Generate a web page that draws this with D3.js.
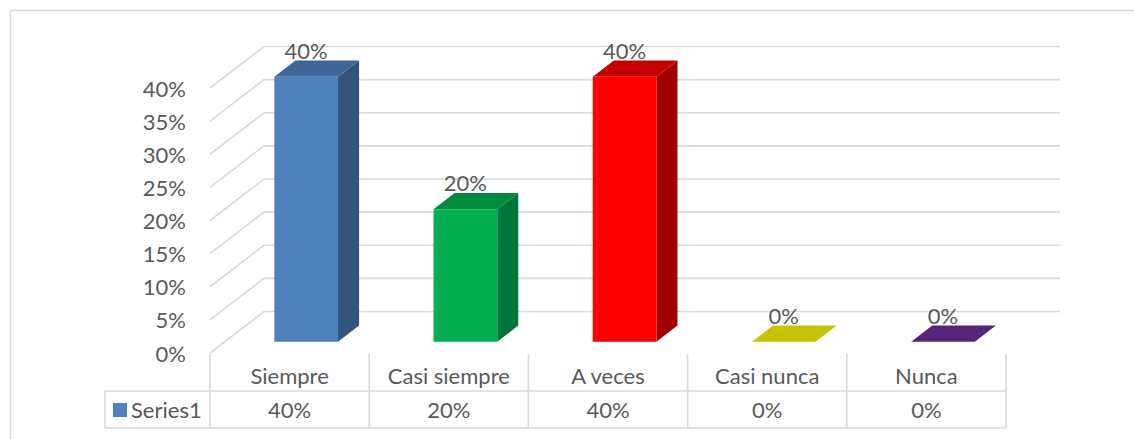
<!DOCTYPE html>
<html><head><meta charset="utf-8">
<script src="https://cdn.jsdelivr.net/npm/d3@7"></script>
<style>
html,body{margin:0;padding:0;background:#fff;}
svg{display:block;}
text{font-family:Lato,"Open Sans",sans-serif;fill:#595959;}
</style></head>
<body>
<script>
const categories = ["Siempre","Casi siempre","A veces","Casi nunca","Nunca"];
const values = [0.40,0.20,0.40,0.00,0.00];
const tickValues = [0,0.05,0.10,0.15,0.20,0.25,0.30,0.35,0.40];
const seriesName = "Series1";

const palette = {
  front: ["#4f81bd","#00b050","#ff0000","#c8c800","#7030a0"],
  top:   ["#3d6596","#008a3d","#c40000","#c4c400","#55257a"],
  side:  ["#33547e","#00763a","#a00000","#9a9a00","#451e64"]
};

const W = 1134, H = 439;
const svg = d3.select("body").append("svg").attr("width", W).attr("height", H);

// outer chart border
svg.append("rect").attr("x",10.5).attr("y",10.5).attr("width",1200).attr("height",600)
  .attr("fill","none").attr("stroke","#d9d9d9").attr("stroke-width",1.5);

const x = d3.scaleBand().domain(categories).range([210,1006]);
const y = d3.scaleLinear().domain([0,0.40]).range([353,88]);
const depthX = 54, depthY = 41.5;
const P = (xf, v, f) => [xf + f*depthX, y(v) - f*depthY];
const grid = "#d9d9d9";

// back wall gridlines and left wall diagonals
const g = svg.append("g").attr("stroke",grid).attr("stroke-width",1.6).attr("fill","none");
tickValues.forEach(t => {
  const a = P(x.range()[0], t, 0), b = P(x.range()[0], t, 1), c = P(x.range()[1], t, 1);
  g.append("path").attr("d", d3.line()([a,b,c]));
});

// table
const tbl = svg.append("g").attr("stroke",grid).attr("stroke-width",1.6).attr("fill","none");
const yTop = 354, yMid = 391, yBot = 428, xLeg = 105;
x.domain().forEach(c => {
  tbl.append("line").attr("x1",x(c)).attr("x2",x(c)).attr("y1",yTop).attr("y2",yBot);
});
tbl.append("line").attr("x1",x.range()[1]).attr("x2",x.range()[1]).attr("y1",yTop).attr("y2",yBot);
tbl.append("line").attr("x1",xLeg).attr("x2",x.range()[1]).attr("y1",yMid).attr("y2",yMid);
tbl.append("line").attr("x1",xLeg).attr("x2",x.range()[1]).attr("y1",yBot).attr("y2",yBot);
tbl.append("line").attr("x1",xLeg).attr("x2",xLeg).attr("y1",yMid).attr("y2",yBot);

const fs = 22;
const fmt = d3.format(".0%");
// category labels and values
svg.append("g").selectAll("text").data(categories).join("text")
  .attr("x", c => x(c) + x.bandwidth()/2).attr("y", 384)
  .attr("text-anchor","middle").attr("font-size",fs).text(c => c);
svg.append("g").selectAll("text").data(values).join("text")
  .attr("x", (v,i) => x(categories[i]) + x.bandwidth()/2).attr("y", 418)
  .attr("text-anchor","middle").attr("font-size",fs).text(v => fmt(v));
// legend key
svg.append("rect").attr("x",113).attr("y",403).attr("width",14).attr("height",14).attr("fill",palette.front[0]);
svg.append("text").attr("x",131).attr("y",418).attr("font-size",fs).text(seriesName);

// y axis labels
const ax = svg.append("g").attr("transform","translate(186,1)")
  .call(d3.axisLeft(y).tickValues(tickValues).tickFormat(fmt).tickSize(0).tickPadding(0));
ax.select(".domain").remove();
ax.selectAll("text").attr("font-size",fs).style("font-family",'Lato,"Open Sans",sans-serif').attr("fill","#595959");

// bars
const f1 = 0.27, f2 = 0.66;
const bw = x.bandwidth()*0.40;
const bars = svg.append("g");
categories.forEach((c,i) => {
  const v = values[i];
  const xl = x(c) + x.bandwidth()/2 - bw/2 + 2, xr = xl + bw;
  const line = d3.line();
  const gb = bars.append("g");
  if (v > 0) {
    gb.append("path").attr("fill",palette.side[i])
      .attr("d", line([P(xr,0,f1),P(xr,0,f2),P(xr,v,f2),P(xr,v,f1)]) + "Z");
  }
  gb.append("path").attr("fill",palette.top[i])
    .attr("d", line([P(xl,v,f1),P(xr,v,f1),P(xr,v,f2),P(xl,v,f2)]) + "Z");
  if (v > 0) {
    gb.append("path").attr("fill",palette.front[i])
      .attr("d", line([P(xl,0,f1),P(xr,0,f1),P(xr,v,f1),P(xl,v,f1)]) + "Z");
  }
  const fc = P((xl+xr)/2, v, f1);
  const lp = P((xl+xr)/2, v, f2);
  svg.append("text").attr("x",fc[0]).attr("y",lp[1]-2)
    .attr("text-anchor","middle").attr("font-size",fs).text(fmt(v));
});
</script>
</body></html>
